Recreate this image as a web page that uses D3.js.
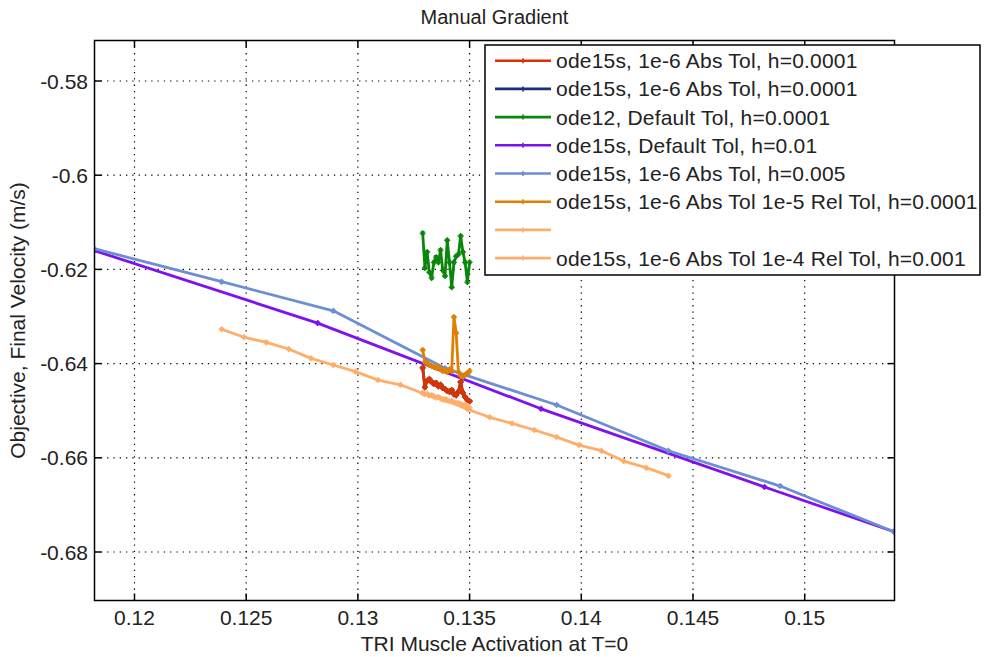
<!DOCTYPE html>
<html>
<head>
<meta charset="utf-8">
<script src="https://cdn.jsdelivr.net/npm/d3@7/dist/d3.min.js"></script>
<style>
  html, body { margin: 0; padding: 0; background: #fff; }
  svg { display: block; font-family: "Liberation Sans", Arial, Helvetica, sans-serif; }
</style>
</head>
<body>
<svg id="chart" width="984" height="657"></svg>
<script>
// Fine-step runs (h = 0.0001) share one activation grid
const xFine = [0.1329, 0.1330, 0.1331, 0.1332, 0.1333, 0.1334, 0.1335, 0.1336, 0.1337, 0.1338, 0.1339,
               0.1340, 0.1341, 0.1342, 0.1343, 0.1344, 0.1345, 0.1346, 0.1347, 0.1348, 0.1349, 0.1350];

const redVals = [-0.6409, -0.6450, -0.6437, -0.6433, -0.6439, -0.6443, -0.6441, -0.6448, -0.6445, -0.6452, -0.6454,
                 -0.6458, -0.6460, -0.6456, -0.6465, -0.6467, -0.6460, -0.6439, -0.6462, -0.6471, -0.6477, -0.6480];
const navyVals = [-0.6409, -0.6450, -0.6437, -0.6433, -0.6439, -0.6443, -0.6441, -0.6448, -0.6445, -0.6452, -0.6454,
                  -0.6458, -0.6460, -0.6456, -0.6465, -0.6467, -0.6460, -0.6439, -0.6462, -0.6471, -0.6477, -0.6480];
const greenVals = [-0.6123, -0.6197, -0.6163, -0.6206, -0.6218, -0.6185, -0.6174, -0.6185, -0.6159, -0.6202, -0.6214,
                   -0.6138, -0.6185, -0.6238, -0.6185, -0.6172, -0.6168, -0.6129, -0.6163, -0.6185, -0.6227, -0.6185];
const orangeVals = [-0.6371, -0.6397, -0.6399, -0.6403, -0.6405, -0.6407, -0.6409, -0.6407, -0.6412, -0.6416, -0.6414,
                    -0.6418, -0.6412, -0.6416, -0.6301, -0.6335, -0.6418, -0.6426, -0.6428, -0.6424, -0.6420, -0.6416];
const peachFineVals = [-0.6462, -0.6465, -0.6464, -0.6468, -0.6467, -0.6470, -0.6472, -0.6471, -0.6474, -0.6476, -0.6475,
                       -0.6478, -0.6480, -0.6479, -0.6482, -0.6484, -0.6483, -0.6486, -0.6488, -0.6487, -0.6491, -0.6494];

// Coarse runs
const xPurple = [0.1182, 0.1282, 0.1382, 0.1482, 0.1540];
const purpleVals = [-0.6160, -0.6314, -0.6496, -0.6662, -0.6757];

const xBlue = [0.1182, 0.1239, 0.1289, 0.1339, 0.1389, 0.1439, 0.1489, 0.1540];
const blueVals = [-0.6156, -0.6226, -0.6288, -0.6410, -0.6488, -0.6585, -0.6660, -0.6757];

const xPeach = [0.1239, 0.1249, 0.1259, 0.1269, 0.1279, 0.1289, 0.1299, 0.1309, 0.1319, 0.1329, 0.1339,
                0.1349, 0.1359, 0.1369, 0.1379, 0.1389, 0.1399, 0.1409, 0.1419, 0.1429, 0.1439];
const peachVals = [-0.6327, -0.6344, -0.6355, -0.6369, -0.6389, -0.6403, -0.6417, -0.6435, -0.6445, -0.6463, -0.6477,
                   -0.6497, -0.6514, -0.6527, -0.6541, -0.6556, -0.6573, -0.6585, -0.6607, -0.6621, -0.6638];

// Axis ticks and text
const xTicks = [0.12, 0.125, 0.13, 0.135, 0.14, 0.145, 0.15];
const yTicks = [-0.58, -0.6, -0.62, -0.64, -0.66, -0.68];
const titleText = "Manual Gradient";
const xLabel = "TRI Muscle Activation at T=0";
const yLabel = "Objective, Final Velocity (m/s)";

const legendLabels = [
  "ode15s, 1e-6 Abs Tol, h=0.0001",
  "ode15s, 1e-6 Abs Tol, h=0.0001",
  "ode12, Default Tol, h=0.0001",
  "ode15s, Default Tol, h=0.01",
  "ode15s, 1e-6 Abs Tol, h=0.005",
  "ode15s, 1e-6 Abs Tol 1e-5 Rel Tol, h=0.0001",
  "",
  "ode15s, 1e-6 Abs Tol 1e-4 Rel Tol, h=0.001"
];
const seriesColors = ["#d93300", "#1b2f7c", "#0a870a", "#7f10f0", "#6c8fd4", "#e07f00", "#ffae6a", "#ffae6a"];

const series = [
  { xs: xFine, ys: redVals },
  { xs: xFine, ys: navyVals },
  { xs: xFine, ys: greenVals },
  { xs: xPurple, ys: purpleVals },
  { xs: xBlue, ys: blueVals },
  { xs: xFine, ys: orangeVals },
  { xs: xFine, ys: peachFineVals },
  { xs: xPeach, ys: peachVals }
].map((s, i) => ({ label: legendLabels[i], color: seriesColors[i],
                   pts: s.xs.map((x, j) => [x, s.ys[j]]) }));

// Paint order: navy sits beneath the red run
const drawOrder = [1, 0, 2, 3, 4, 5, 6, 7];

const svg = d3.select("#chart");
const L = 94.5, R = 894.5, T = 40.5, B = 600.5;

const x = d3.scaleLinear().domain([0.11821, 0.15402]).range([L, R]);
const y = d3.scaleLinear().domain([-0.6903, -0.5714]).range([B, T]);

// Dotted grid
const grid = svg.append("g").attr("stroke", "#000").attr("stroke-width", 1.2)
  .attr("stroke-dasharray", "1.3,5");
grid.selectAll(".gx").data(xTicks).join("line")
  .attr("x1", d => x(d)).attr("x2", d => x(d)).attr("y1", T).attr("y2", B);
grid.selectAll(".gy").data(yTicks).join("line")
  .attr("x1", L).attr("x2", R).attr("y1", d => y(d)).attr("y2", d => y(d));

// Data
svg.append("clipPath").attr("id", "plotArea")
  .append("rect").attr("x", L).attr("y", T).attr("width", R - L).attr("height", B - T);
const plot = svg.append("g").attr("clip-path", "url(#plotArea)");
const line = d3.line().x(d => x(d[0])).y(d => y(d[1]));
const marker = "M-3,0H3M0,-3V3M-1.8,-1.8L1.8,1.8M-1.8,1.8L1.8,-1.8";

drawOrder.forEach(i => {
  const s = series[i];
  const g = plot.append("g");
  g.append("path").attr("d", line(s.pts)).attr("fill", "none")
    .attr("stroke", s.color).attr("stroke-width", 2.8).attr("stroke-linejoin", "round");
  g.selectAll("path.m").data(s.pts).join("path").attr("class", "m")
    .attr("transform", d => `translate(${x(d[0])},${y(d[1])})`)
    .attr("d", marker).attr("stroke", s.color).attr("stroke-width", 1.4).attr("fill", "none");
});

// Axes: box with inward ticks on all sides
const tickLen = 7;
const axes = svg.append("g").attr("stroke", "#000").attr("stroke-width", 1.5);
axes.append("rect").attr("x", L).attr("y", T).attr("width", R - L).attr("height", B - T).attr("fill", "none");
xTicks.forEach(t => {
  axes.append("line").attr("x1", x(t)).attr("x2", x(t)).attr("y1", B).attr("y2", B - tickLen);
  axes.append("line").attr("x1", x(t)).attr("x2", x(t)).attr("y1", T).attr("y2", T + tickLen);
});
yTicks.forEach(t => {
  axes.append("line").attr("x1", L).attr("x2", L + tickLen).attr("y1", y(t)).attr("y2", y(t));
  axes.append("line").attr("x1", R).attr("x2", R - tickLen).attr("y1", y(t)).attr("y2", y(t));
});

// Tick labels with a plain hyphen for negatives
const fmt = d => String(d);
svg.append("g").selectAll("text").data(xTicks).join("text")
  .attr("x", d => x(d)).attr("y", 625).attr("text-anchor", "middle")
  .attr("font-size", 21).attr("fill", "#222").text(fmt);
svg.append("g").selectAll("text").data(yTicks).join("text")
  .attr("x", 88).attr("y", d => y(d)).attr("dy", "0.36em").attr("text-anchor", "end")
  .attr("font-size", 21).attr("fill", "#222").text(fmt);

svg.append("text").attr("x", (L + R) / 2).attr("y", 24).attr("text-anchor", "middle")
  .attr("font-size", 20).attr("fill", "#222").text(titleText);
svg.append("text").attr("x", (L + R) / 2).attr("y", 651).attr("text-anchor", "middle")
  .attr("font-size", 21).attr("fill", "#222").text(xLabel);
svg.append("text").attr("transform", `translate(25,${(T + B) / 2}) rotate(-90)`)
  .attr("text-anchor", "middle").attr("font-size", 21).attr("fill", "#222").text(yLabel);

// Legend
const lg = svg.append("g");
lg.append("rect").attr("x", 485).attr("y", 45).attr("width", 495).attr("height", 230)
  .attr("fill", "#fff").attr("stroke", "#000").attr("stroke-width", 1.5);
const rowY = i => 60.7 + i * 28.2;
series.forEach((s, i) => {
  const cy = rowY(i);
  lg.append("line").attr("x1", 495).attr("x2", 551).attr("y1", cy).attr("y2", cy)
    .attr("stroke", s.color).attr("stroke-width", 2.6);
  lg.append("path").attr("transform", `translate(523,${cy})`).attr("d", "M-2.5,0H2.5M0,-2.5V2.5")
    .attr("stroke", s.color).attr("stroke-width", 1.6);
  lg.append("text").attr("x", 556).attr("y", cy).attr("dy", "0.36em")
    .attr("font-size", 21).attr("letter-spacing", 0.2).attr("fill", "#222").text(s.label);
});
</script>
</body>
</html>
